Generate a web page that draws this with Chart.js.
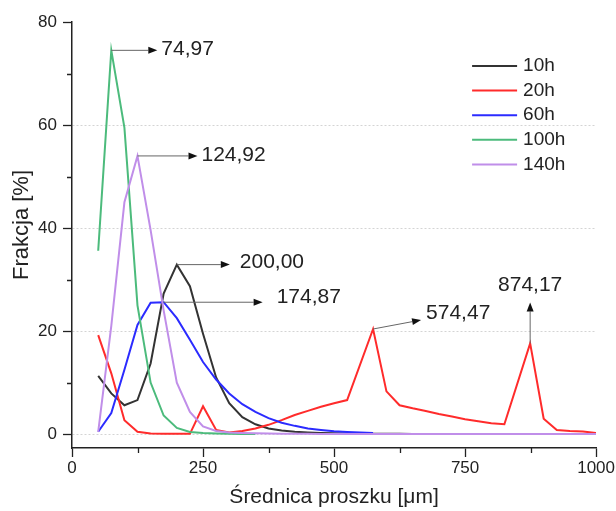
<!DOCTYPE html>
<html lang="pl">
<head>
<meta charset="UTF-8">
<title>Frakcja proszku</title>
<script src="https://cdn.jsdelivr.net/npm/chart.js"></script>
<style>
  html, body { margin: 0; padding: 0; background: #fff; }
  #wrap { width: 616px; height: 511px; position: relative; }
</style>
</head>
<body>
<div id="wrap"><canvas id="sizeChart"></canvas></div>
<script>
// particle diameters [um], shared by all series
var diameters = [50, 74.97, 100, 124.92, 150, 174.87, 200, 225, 250, 275,
                 300, 325, 350, 375, 400, 425, 450, 475, 500, 525,
                 550, 574.47, 600, 625, 650, 675, 700, 725, 750, 775,
                 800, 825, 850, 874.17, 900, 925, 950, 975, 1000];

var seriesNames = ['10h', '20h', '60h', '100h', '140h'];
var seriesColors = ['#333333', '#ff2b2b', '#2b2bff', '#4cbb7c', '#c08ee9'];

// fraction [%] per diameter, null where the series has no point
var frac10h = [11.3, 7.9, 5.6, 6.6, 13.7, 27.3, 32.9, 28.7, 19.5, 11.0,
               6.0, 3.3, 1.9, 1.1, 0.7, 0.45, 0.3, 0.2, 0.15, 0.12,
               0.1, 0.08, 0.06, 0.05, 0.04, 0.03, 0.03, null, null, null,
               null, null, null, null, null, null, null, null, null];
var frac20h = [19.2, 11.8, 2.7, 0.45, 0.1, 0.05, 0.05, 0.05, 5.4, 0.8,
               0.3, 0.6, 1.1, 1.8, 2.7, 3.7, 4.5, 5.3, 6.0, 6.6,
               null, 20.4, 8.3, 5.6, 5.0, 4.5, 3.9, 3.4, 2.9, 2.5,
               2.1, 1.9, null, 17.6, 3.0, 0.8, 0.6, 0.5, 0.2];
var frac60h = [0.45, 4.1, 12.5, 21.2, 25.5, 25.6, 22.5, 18.3, 14.0, 10.6,
               7.9, 5.8, 4.3, 3.1, 2.2, 1.6, 1.1, 0.8, 0.55, 0.4,
               0.3, 0.2, null, null, null, null, null, null, null, null,
               null, null, null, null, null, null, null, null, null];
var frac100h = [35.6, 74.5, 59.5, 25.0, 10.0, 3.6, 1.2, 0.4, 0.2, 0.1,
                0.05, 0.03, 0.02, null, null, null, null, null, null, null,
                null, null, null, null, null, null, null, null, null, null,
                null, null, null, null, null, null, null, null, null];
var frac140h = [0.45, 21.0, 45.0, 54.0, 39.6, 24.0, 10.0, 4.3, 1.5, 0.6,
                0.3, 0.2, 0.15, 0.1, 0.08, 0.06, 0.05, 0.04, 0.03, 0.03,
                0.02, 0.02, 0.02, 0.02, 0.02, 0.02, 0.02, 0.02, 0.02, 0.02,
                0.02, 0.02, 0.02, 0.02, 0.02, 0.02, 0.02, 0.02, 0.02];
var allFractions = [frac10h, frac20h, frac60h, frac100h, frac140h];

var xTickValues = [0, 250, 500, 750, 1000];
var xMinorTicks = [125, 375, 625, 875];
var yTickValues = [0, 20, 40, 60, 80];
var yMinorTicks = [10, 30, 50, 70];
var yTitle = 'Frakcja [%]';

// peaks marked with an arrow and their diameter
var peakMarks = [
    { series: 3, at: 1,  dx: 46, dy: 0,   tx: 4,  ty: -1, align: 'left' },
    { series: 4, at: 3,  dx: 60, dy: 0,   tx: 4,  ty: -1, align: 'left' },
    { series: 0, at: 6,  dx: 53, dy: 0,   tx: 10, ty: -2, align: 'left' },
    { series: 2, at: 5,  dx: 99, dy: 0,   tx: 14, ty: -5, align: 'left' },
    { series: 1, at: 21, dx: 48, dy: -9,  tx: 5,  ty: -7, align: 'left' },
    { series: 1, at: 33, dx: 0,  dy: -41, tx: 0,  ty: -17, align: 'center' }
];

var FONT = '"Liberation Sans", Arial, sans-serif';
var INK = '#222222';

function toPoints(values) {
    var pts = [];
    values.forEach(function (v, i) {
        if (v !== null) pts.push({ x: diameters[i], y: v });
    });
    return pts;
}

function commaNumber(v) {
    return v.toFixed(2).replace('.', ',');
}

var datasets = seriesNames.map(function (name, i) {
    return {
        label: name,
        data: toPoints(allFractions[i]),
        borderColor: seriesColors[i],
        backgroundColor: seriesColors[i],
        borderWidth: 2,
        pointRadius: 0,
        tension: 0,
        fill: false,
        order: seriesNames.length - i
    };
});

function drawArrow(ctx, x1, y1, x2, y2) {
    var ang = Math.atan2(y2 - y1, x2 - x1);
    var head = 9, half = 3.5;
    ctx.save();
    ctx.strokeStyle = '#666';
    ctx.lineWidth = 1;
    ctx.beginPath();
    ctx.moveTo(x1, y1);
    ctx.lineTo(x2 - Math.cos(ang) * head, y2 - Math.sin(ang) * head);
    ctx.stroke();
    ctx.fillStyle = '#111';
    ctx.beginPath();
    ctx.moveTo(x2, y2);
    ctx.lineTo(x2 - Math.cos(ang) * head - Math.sin(ang) * half, y2 - Math.sin(ang) * head + Math.cos(ang) * half);
    ctx.lineTo(x2 - Math.cos(ang) * head + Math.sin(ang) * half, y2 - Math.sin(ang) * head - Math.cos(ang) * half);
    ctx.closePath();
    ctx.fill();
    ctx.restore();
}

var peakLabels = {
    id: 'peakLabels',
    afterDatasetsDraw: function (chart) {
        var ctx = chart.ctx;
        var xs = chart.scales.x, ys = chart.scales.y;
        ctx.save();
        ctx.font = '21px ' + FONT;
        ctx.fillStyle = INK;
        ctx.textBaseline = 'middle';
        peakMarks.forEach(function (m) {
            var d = diameters[m.at];
            var px = xs.getPixelForValue(d);
            var py = ys.getPixelForValue(allFractions[m.series][m.at]);
            var ex = px + m.dx, ey = py + m.dy;
            drawArrow(ctx, px, py, ex, ey);
            ctx.textAlign = m.align;
            ctx.fillText(commaNumber(d), ex + m.tx, ey + m.ty);
        });
        ctx.restore();
    }
};

// short unlabelled ticks between the labelled ones, plus the y title
var axisExtras = {
    id: 'axisExtras',
    afterDraw: function (chart) {
        var ctx = chart.ctx;
        var xs = chart.scales.x, ys = chart.scales.y;
        var area = chart.chartArea;
        ctx.save();
        ctx.strokeStyle = INK;
        ctx.lineWidth = 1.3;
        ctx.beginPath();
        xMinorTicks.forEach(function (v) {
            var x = Math.round(xs.getPixelForValue(v)) + 0.5;
            ctx.moveTo(x, area.bottom);
            ctx.lineTo(x, area.bottom + 5);
        });
        yMinorTicks.forEach(function (v) {
            var y = Math.round(ys.getPixelForValue(v)) + 0.5;
            ctx.moveTo(area.left, y);
            ctx.lineTo(area.left - 5, y);
        });
        ctx.stroke();

        ctx.translate(22, area.top + 203);
        ctx.rotate(-Math.PI / 2);
        ctx.font = '22px ' + FONT;
        ctx.fillStyle = INK;
        ctx.textAlign = 'center';
        ctx.textBaseline = 'middle';
        ctx.fillText(yTitle, 0, 0);
        ctx.restore();
    }
};

var sideLegend = {
    id: 'sideLegend',
    afterDraw: function (chart) {
        var ctx = chart.ctx;
        var area = chart.chartArea;
        var x0 = area.right - 124, y0 = area.top + 44;
        ctx.save();
        ctx.font = '19px ' + FONT;
        ctx.textBaseline = 'middle';
        ctx.textAlign = 'left';
        chart.data.datasets.forEach(function (ds, i) {
            var y = y0 + i * 24.6;
            ctx.strokeStyle = ds.borderColor;
            ctx.lineWidth = 2;
            ctx.beginPath();
            ctx.moveTo(x0, y);
            ctx.lineTo(x0 + 45, y);
            ctx.stroke();
            ctx.fillStyle = INK;
            ctx.fillText(ds.label, x0 + 51, y);
        });
        ctx.restore();
    }
};

new Chart(document.getElementById('sizeChart'), {
    type: 'line',
    data: { datasets: datasets },
    plugins: [peakLabels, axisExtras, sideLegend],
    options: {
        responsive: true,
        maintainAspectRatio: false,
        animation: false,
        layout: { padding: { top: 22, right: 19, left: 0, bottom: 0 } },
        plugins: {
            legend: { display: false },
            tooltip: { enabled: false }
        },
        scales: {
            x: {
                type: 'linear',
                min: 0,
                max: 1000,
                afterBuildTicks: function (axis) {
                    axis.ticks = xTickValues.map(function (v) { return { value: v }; });
                },
                afterFit: function (axis) { axis.height = 63; },
                ticks: {
                    color: INK,
                    font: { family: FONT, size: 17 },
                    padding: 1,
                    maxRotation: 0,
                    callback: function (v) { return String(v); }
                },
                grid: {
                    drawOnChartArea: false,
                    tickLength: 9,
                    tickColor: INK,
                    tickWidth: 1.3
                },
                border: { color: INK, width: 1.5 },
                title: {
                    display: true,
                    text: 'Średnica proszku [μm]',
                    color: INK,
                    font: { family: FONT, size: 21 },
                    padding: { top: 1, bottom: 1 }
                }
            },
            y: {
                type: 'linear',
                min: -2.7,
                max: 80,
                afterBuildTicks: function (axis) {
                    axis.ticks = yTickValues.map(function (v) { return { value: v }; });
                },
                afterFit: function (axis) { axis.width = 72; },
                ticks: {
                    color: INK,
                    font: { family: FONT, size: 17 },
                    padding: 6,
                    callback: function (v) { return String(v); }
                },
                grid: {
                    color: function (c) {
                        return c.tick && c.tick.value === 80 ? 'rgba(0,0,0,0)' : '#d4d4d4';
                    },
                    lineWidth: 1,
                    tickLength: 9,
                    tickColor: INK,
                    tickWidth: 1.3,
                    tickBorderDash: []
                },
                border: { color: INK, width: 1.5, dash: [2, 2] },
                title: { display: false }
            }
        }
    }
});
</script>
</body>
</html>
